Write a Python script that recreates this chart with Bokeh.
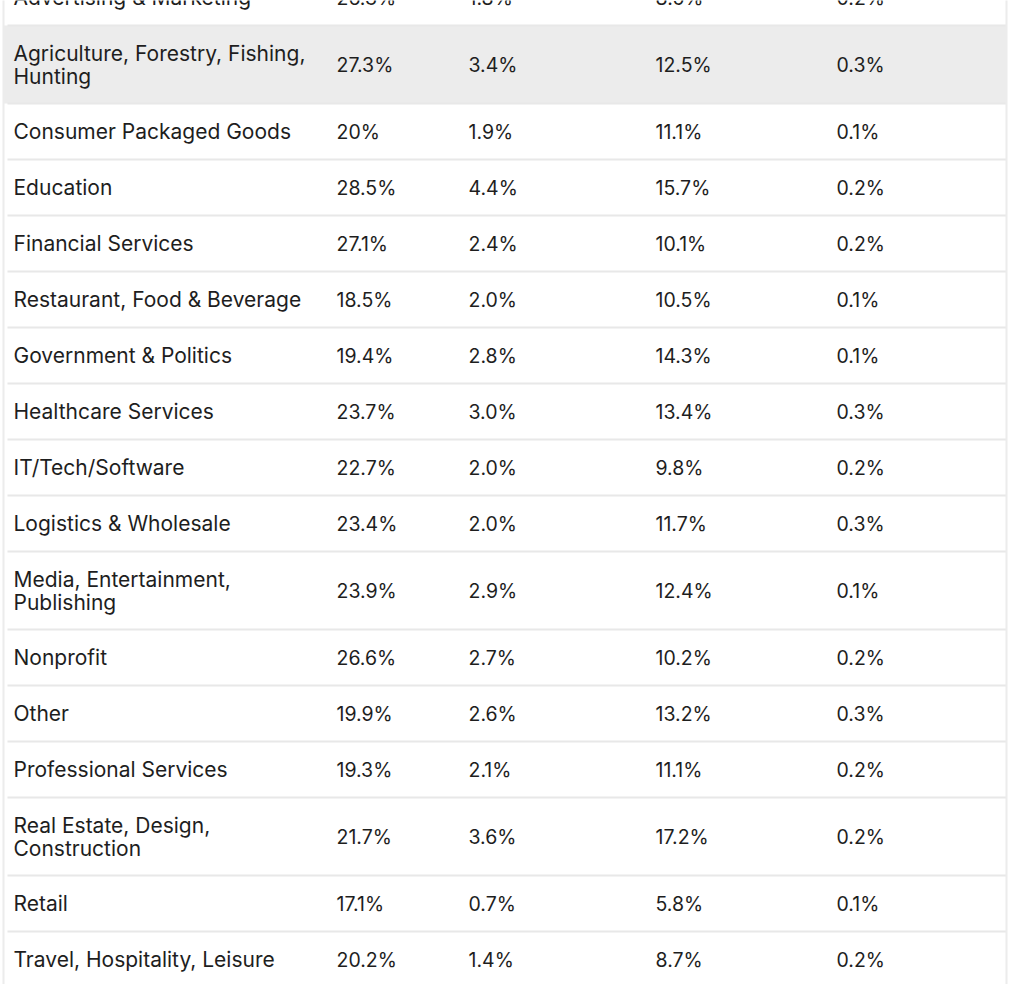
from bokeh.plotting import figure
from bokeh.models import Range1d, ColumnDataSource
from bokeh.core.properties import value
from bokeh.embed import file_html
from bokeh.resources import INLINE

categories = [
    "Advertising & Marketing",
    "Agriculture, Forestry, Fishing,\nHunting",
    "Consumer Packaged Goods",
    "Education",
    "Financial Services",
    "Restaurant, Food & Beverage",
    "Government & Politics",
    "Healthcare Services",
    "IT/Tech/Software",
    "Logistics & Wholesale",
    "Media, Entertainment,\nPublishing",
    "Nonprofit",
    "Other",
    "Professional Services",
    "Real Estate, Design,\nConstruction",
    "Retail",
    "Travel, Hospitality, Leisure",
]
col1 = ["26.3%", "27.3%", "20%", "28.5%", "27.1%", "18.5%", "19.4%", "23.7%", "22.7%",
        "23.4%", "23.9%", "26.6%", "19.9%", "19.3%", "21.7%", "17.1%", "20.2%"]
col2 = ["1.8%", "3.4%", "1.9%", "4.4%", "2.4%", "2.0%", "2.8%", "3.0%", "2.0%",
        "2.0%", "2.9%", "2.7%", "2.6%", "2.1%", "3.6%", "0.7%", "1.4%"]
col3 = ["8.5%", "12.5%", "11.1%", "15.7%", "10.1%", "10.5%", "14.3%", "13.4%", "9.8%",
        "11.7%", "12.4%", "10.2%", "13.2%", "11.1%", "17.2%", "5.8%", "8.7%"]
col4 = ["0.2%", "0.3%", "0.1%", "0.2%", "0.2%", "0.1%", "0.1%", "0.3%", "0.2%",
        "0.3%", "0.1%", "0.2%", "0.3%", "0.2%", "0.2%", "0.1%", "0.2%"]
highlighted_row = 1

# layout (picture pixel coordinates)
FONT = "Inter"
W, H = 1008, 984
row_single, row_double = 56, 78
top = -31
col_x = [13, 336, 468, 655, 836]
left_edge, right_edge = 3, 1006

heights = [row_double if "\n" in c else row_single for c in categories]
tops, bottoms, centers = [], [], []
y = top
for h in heights:
    tops.append(y)
    bottoms.append(y + h)
    centers.append(y + h / 2)
    y += h

p = figure(width=W, height=H, output_backend="svg", toolbar_location=None,
           x_range=Range1d(0, W), y_range=Range1d(H, 0), min_border=0)
p.axis.visible = False
p.grid.visible = False
p.outline_line_color = None
p.background_fill_color = "white"
p.border_fill_color = "white"

# highlighted row
p.quad(left=[left_edge], right=[right_edge], top=[tops[highlighted_row]],
       bottom=[bottoms[highlighted_row]], fill_color="#ececec", line_color=None)

# row separators
p.segment(x0=[left_edge + 4] * len(bottoms), x1=[right_edge] * len(bottoms),
          y0=bottoms, y1=bottoms, line_color="#e8e8e8", line_width=2)

# vertical borders
p.segment(x0=[left_edge, right_edge], x1=[left_edge, right_edge], y0=[top, top],
          y1=[H, H], line_color="#ececec", line_width=2)

src = ColumnDataSource(dict(cat=categories, c1=col1, c2=col2, c3=col3, c4=col4, y=centers))
for i, field in enumerate(["cat", "c1", "c2", "c3", "c4"]):
    p.text(x=col_x[i], y="y", text=field, source=src, text_font=value(FONT),
           text_font_size="21px" if i == 0 else "19.5px", text_color="#1e1e1e",
           text_baseline="middle", text_align="left", text_line_height=0.92)

open("out.html", "w").write(file_html(p, INLINE))
